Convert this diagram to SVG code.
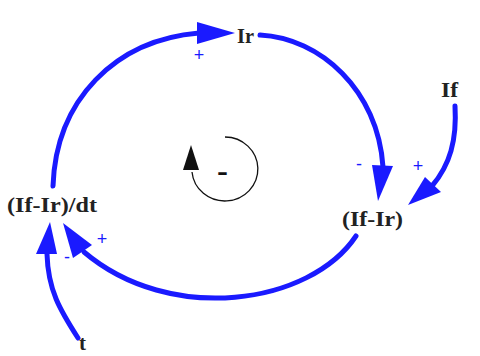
<svg xmlns="http://www.w3.org/2000/svg" width="480" height="356" viewBox="0 0 480 356">
<style>
.lbl{font-family:"Liberation Serif","Times New Roman",serif;font-weight:bold;font-size:21px;fill:#222}
.sign{font-family:"Liberation Sans",Arial,sans-serif;font-size:18px;fill:#1a1aff}
.link{fill:none;stroke:#1a1aff;stroke-width:5;stroke-linecap:round}
.head{fill:#1a1aff}
</style>
<rect width="480" height="356" fill="#fff"/>
<g id="connectors">
<path class="link" d="M53,186 C56,100 115,40 199,33"/>
<polygon class="head" points="197,22 235,33 197,44"/>
<path class="link" d="M260,35 C320,38 378,90 383,167"/>
<polygon class="head" points="372,165 393,166 378,201"/>
<path class="link" d="M356,236 C310,305 170,325 84,252"/>
<polygon class="head" points="63,223 92,245 73,258"/>
<path class="link" d="M78,338 C60,310 48,290 47,254"/>
<polygon class="head" points="50,222 36,254 57,254"/>
<path class="link" d="M455,106 C457,140 450,165 432,186"/>
<polygon class="head" points="408,205 425,177 441,192"/>
<text class="sign" x="199" y="61" text-anchor="middle">+</text>
<text class="sign" x="359" y="170" text-anchor="middle">-</text>
<text class="sign" x="418" y="172" text-anchor="middle">+</text>
<text class="sign" x="102" y="245" text-anchor="middle">+</text>
<text class="sign" x="67" y="263" text-anchor="middle">-</text>
</g>
<g id="loop">
<path d="M225,137 A33,32 0 1 1 192,172" fill="none" stroke="#111" stroke-width="1.3"/>
<polygon points="191,145 183,170 199,170" fill="#111"/>
<text x="217" y="180" textLength="11" lengthAdjust="spacingAndGlyphs" style="font-family:'Liberation Sans',Arial,sans-serif;font-weight:bold;font-size:24px;fill:#111">-</text>
</g>
<g id="node-Ir"><text class="lbl" x="237" y="43" textLength="17" lengthAdjust="spacingAndGlyphs">Ir</text></g>
<g id="node-If"><text class="lbl" x="441" y="97" textLength="17" lengthAdjust="spacingAndGlyphs">If</text></g>
<g id="node-diff"><text class="lbl" x="342" y="226" textLength="61" lengthAdjust="spacingAndGlyphs">(If-Ir)</text></g>
<g id="node-rate"><text class="lbl" x="7" y="212" textLength="90" lengthAdjust="spacingAndGlyphs">(If-Ir)/dt</text></g>
<g id="node-t"><text class="lbl" x="79" y="350">t</text></g>
</svg>
